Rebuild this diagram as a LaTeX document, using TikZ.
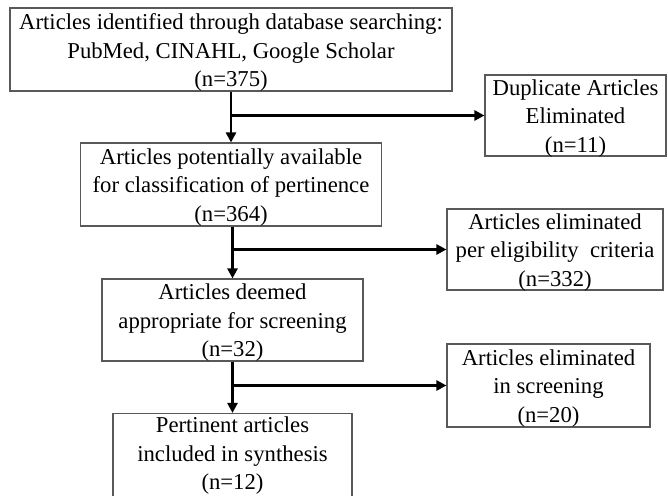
\documentclass[tikz,border=0pt]{standalone}
\usepackage{fontspec}
\setmainfont{Liberation Serif}
\usetikzlibrary{arrows.meta,calc}
\begin{document}
\begin{tikzpicture}[x=1pt,y=-1pt,
  box/.style={draw=black!65,line width=1.1pt,inner sep=0pt},
  txt/.style={align=center,inner sep=0pt,font=\fontsize{22.7}{28.5}\selectfont},
  arr/.style={line width=2.8pt,-{Triangle[length=10pt,width=10pt]}}]
\clip (0,0) rectangle (668,495);
\fill[white] (0,0) rectangle (668,495);
\useasboundingbox (0,0) rectangle (668,495);
\node[box,minimum width=442pt,minimum height=83pt] (n1) at (231,49.5) {};
\node[txt] (t1) at ([yshift=-3pt]n1.center)
  {Articles identified through database searching:\\PubMed, CINAHL, Google Scholar\\(n=375)};
\node[box,minimum width=181pt,minimum height=81pt] (dup) at (575.5,115.5) {};
\node[txt] (tdup) at ([yshift=-3pt]dup.center)
  {Duplicate Articles\\Eliminated\\(n=11)};
\node[box,minimum width=301pt,minimum height=83pt] (n2) at (231,184.5) {};
\node[txt] (t2) at ([yshift=-3pt]n2.center)
  {Articles potentially available\\for classification of pertinence\\(n=364)};
\node[box,minimum width=216pt,minimum height=81pt] (elig) at (555,249.5) {};
\node[txt] (telig) at ([yshift=-3pt]elig.center)
  {Articles eliminated\\per eligibility\ \ criteria\\(n=332)};
\node[box,minimum width=261pt,minimum height=82pt] (n3) at (232.5,320) {};
\node[txt] (t3) at ([yshift=-3pt]n3.center)
  {Articles deemed\\appropriate for screening\\(n=32)};
\node[box,minimum width=203pt,minimum height=83pt] (scr) at (548.5,385.5) {};
\node[txt] (tscr) at ([yshift=-3pt]scr.center)
  {Articles eliminated\\in screening\\(n=20)};
\node[box,minimum width=239pt,minimum height=83pt] (n4) at (232.5,455) {};
\node[txt] (t4) at ([yshift=-1pt]n4.center)
  {Pertinent articles\\included in synthesis\\(n=12)};
\draw[arr] (n1.south -| n2.north) -- (n2.north);
\draw[arr] (n2.north |- dup.west) -- (dup.west);
\draw[arr] (n2.south -| n3.north) -- (n3.north);
\draw[arr] (n3.north |- elig.west) -- (elig.west);
\draw[arr] (n3.south) -- (n4.north);
\draw[arr] (n3.south |- scr.west) -- (scr.west);
\end{tikzpicture}
\end{document}
